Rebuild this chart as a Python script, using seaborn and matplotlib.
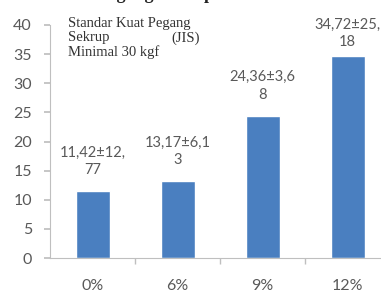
import matplotlib
matplotlib.use("Agg")
import matplotlib.pyplot as plt
import seaborn as sns
import pandas as pd

categories = ["0%", "6%", "9%", "12%"]
values = [11.42, 13.17, 24.36, 34.72]
labels = ["11,42±12,\n77", "13,17±6,1\n3", "24,36±3,6\n8", "34,72±25,\n18"]
yticks = [0, 5, 10, 15, 20, 25, 30, 35, 40]

sns.set_theme(style="white")
plt.rcParams['font.family'] = ['Lato', 'DejaVu Sans']

df = pd.DataFrame({"cat": categories, "val": values})

fig = plt.figure(figsize=(3.81, 2.92), dpi=100)
ax = fig.add_axes([50/381, 34/292, 340/381, 233/292])
sns.barplot(data=df, x="cat", y="val", color="#4A7FC0", width=0.4, ax=ax, saturation=1)

ax.set_ylim(0, 40)
ax.set_xlim(-0.5, 3.5)
ax.set_yticks(yticks)
ax.set_yticklabels([str(t) for t in yticks], color="#595959", fontsize=11.5)
ax.set_xticks(range(len(categories)))
ax.set_xticklabels(categories, color="#595959", fontsize=11.5)
ax.set_xticks([0.5, 1.5, 2.5], minor=True)
ax.tick_params(axis="x", which="major", length=0, pad=15)
ax.tick_params(axis="x", which="minor", length=4, color="#BFBFBF", direction="out", bottom=True)
ax.tick_params(axis="y", length=4, color="#BFBFBF", direction="out", left=True, pad=9)
ax.set_xlabel("")
ax.set_ylabel("")
for s in ["top", "right"]:
    ax.spines[s].set_visible(False)
for s in ["left", "bottom"]:
    ax.spines[s].set_color("#BFBFBF")
    ax.spines[s].set_linewidth(0.8)
ax.grid(False)

for i, (v, lab) in enumerate(zip(values, labels)):
    ax.text(i, min(v + 2.5, 35.8), lab, ha="center", va="bottom", fontsize=10.5,
            color="#595959", linespacing=1.3)

serif = ["Liberation Serif", "DejaVu Serif"]
box_kw = dict(family=serif, fontsize=10.5, color="#333333", va="center")
fig.text(68/381, 1 - 24/292, "Standar Kuat Pegang", **box_kw)
fig.text(68/381, 1 - 38/292, "Sekrup", **box_kw)
fig.text(200/381, 1 - 38/292, "(JIS)", ha="right", **box_kw)
fig.text(68/381, 1 - 52/292, "Minimal 30 kgf", **box_kw)

fig.text(214/381, 1 + 1/292, "Kuat Pegang Sekrup", family=serif, fontsize=13, fontweight="bold",
         color="#222222", ha="right", va="baseline")

fig.savefig("out.png", dpi=100)
